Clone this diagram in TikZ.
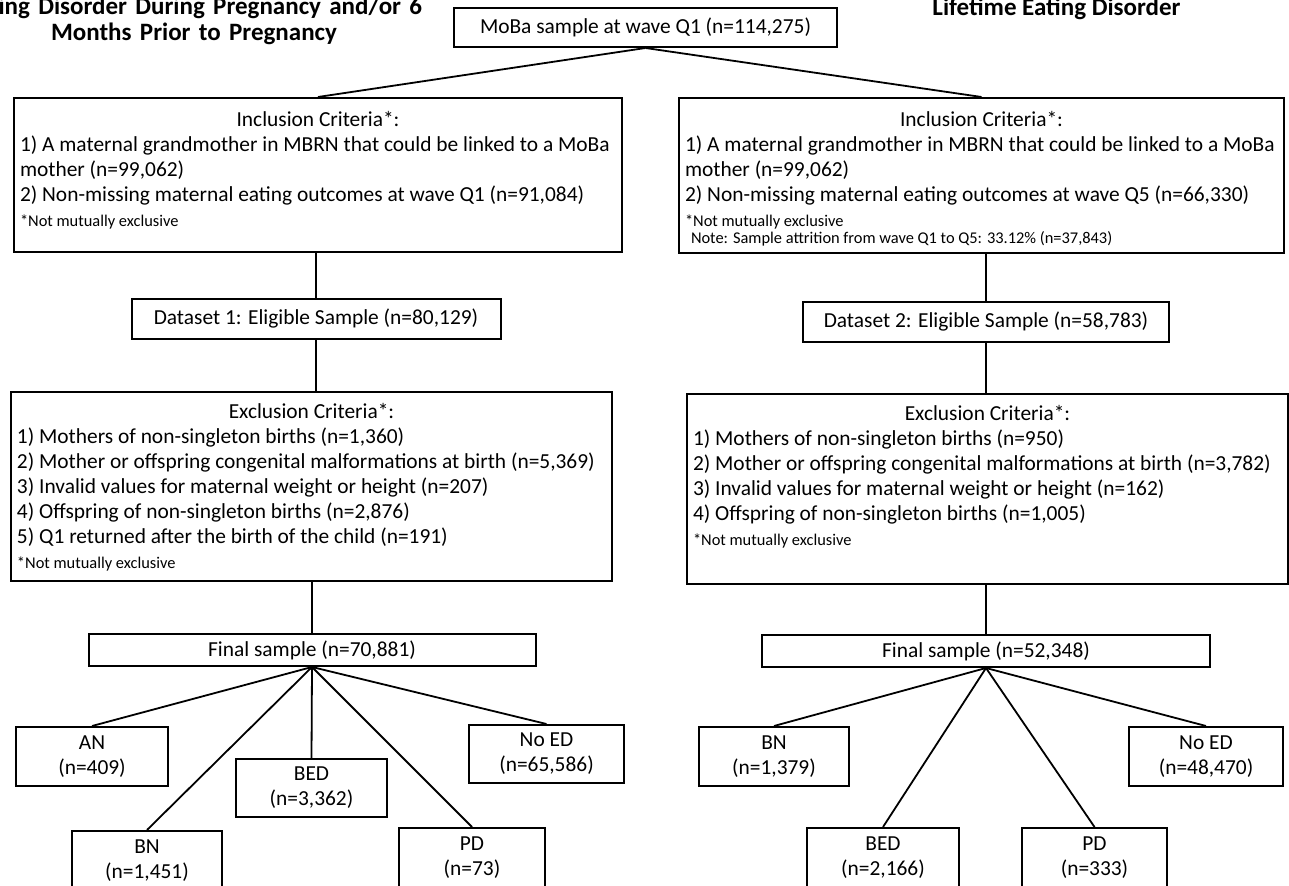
\documentclass[tikz,border=0pt]{standalone}
\usepackage{fontspec}
\setmainfont{Carlito}
\newcommand{\bodyfont}{\fontsize{10.7}{12.5}\selectfont}
\newcommand{\notefont}{\fontsize{8.2}{9.5}\selectfont}
\newcommand{\headfont}{\fontsize{12.5}{13}\selectfont\bfseries}

\begin{document}
\begin{tikzpicture}[
  x=0.5pt, y=-0.5pt,
  flowbox/.style={draw, line width=1pt, inner sep=0pt, font=\bodyfont},
  critbox/.style={flowbox, anchor=north west, align=flush left, inner xsep=3pt},
  cellbox/.style={flowbox, align=center},
  headline/.style={font=\headfont, inner sep=0pt, anchor=base},
  link/.style={line width=0.9pt},
]
  \useasboundingbox (0,0) rectangle (1289,886);
  \clip (0,0) rectangle (1289,886);

  % Titles (cut by the frame)
  \node[headline, text width=260pt, align=center] (titleL) at (194,15)
    {\hphantom{Eat}ing Disorder During Pregnancy and/or 6\\Months Prior to Pregnancy};
  \node[headline] (titleR) at (1056.5,16) {Lifetime Eating Disorder};

  % Common start
  \node[cellbox, minimum width=191.5pt, minimum height=19.5pt] (top) at (645.5,27.5)
    {MoBa sample at wave Q1 (n=114,275)};

  % Left branch: dataset 1
  \node[critbox, text width=298pt, text height=14.5pt, text depth=62.5pt] (inclL) at (13,97)
    {\makebox[\linewidth]{Inclusion Criteria*:}\\
     \mbox{1) A maternal grandmother in MBRN that could be linked to a MoBa}\\
     mother (n=99,062)\\
     \mbox{2) Non-missing maternal eating outcomes at wave Q1 (n=91,084)}\\
     {\notefont *Not mutually exclusive}};
  \node[cellbox, minimum width=184.5pt, minimum height=20pt] (data1) at (316,319)
    {Dataset 1: Eligible Sample (n=80,129)};
  \node[critbox, text width=294.5pt, text height=13.5pt, text depth=81pt] (exclL) at (10,391)
    {\makebox[\linewidth]{Exclusion Criteria*:}\\
     1) Mothers of non-singleton births (n=1,360)\\
     \mbox{2) Mother or offspring congenital malformations at birth (n=5,369)}\\
     3) Invalid values for maternal weight or height (n=207)\\
     4) Offspring of non-singleton births (n=2,876)\\
     5) Q1 returned after the birth of the child (n=191)\\
     {\notefont *Not mutually exclusive}};
  \node[cellbox, minimum width=223.5pt, minimum height=16pt] (finalL) at (312,650)
    {Final sample (n=70,881)};

  \node[cellbox, minimum width=76pt, minimum height=29.5pt] (ANl) at (92,756.5) {AN\\(n=409)};
  \node[cellbox, minimum width=75pt, minimum height=29.5pt] (BNl) at (147,860.5) {BN\\(n=1,451)};
  \node[cellbox, minimum width=75.5pt, minimum height=29pt] (BEDl) at (311.5,788) {BED\\(n=3,362)};
  \node[cellbox, minimum width=73pt, minimum height=29.5pt] (PDl) at (472,857.5) {PD\\(n=73)};
  \node[cellbox, minimum width=77.5pt, minimum height=29pt] (NoEDl) at (546.5,754) {No ED\\(n=65,586)};

  % Right branch: dataset 2
  \node[critbox, text width=296.5pt, text height=14.5pt, text depth=63pt] (inclR) at (678,97)
    {\makebox[\linewidth]{Inclusion Criteria*:}\\
     \mbox{1) A maternal grandmother in MBRN that could be linked to a MoBa}\\
     mother (n=99,062)\\
     \mbox{2) Non-missing maternal eating outcomes at wave Q5 (n=66,330)}\\
     {\notefont *Not mutually exclusive}\\[-4pt]
     {\notefont\hspace*{3pt}Note: Sample attrition from wave Q1 to Q5: 33.12\% (n=37,843)}};
  \node[cellbox, minimum width=183pt, minimum height=20pt] (data2) at (986,322)
    {Dataset 2: Eligible Sample (n=58,783)};
  \node[critbox, text width=294.5pt, text height=13.5pt, text depth=81.5pt] (exclR) at (686,393)
    {\makebox[\linewidth]{Exclusion Criteria*:}\\
     1) Mothers of non-singleton births (n=950)\\
     \mbox{2) Mother or offspring congenital malformations at birth (n=3,782)}\\
     3) Invalid values for maternal weight or height (n=162)\\
     4) Offspring of non-singleton births (n=1,005)\\
     {\notefont *Not mutually exclusive}};
  \node[cellbox, minimum width=224pt, minimum height=16pt] (finalR) at (986,651)
    {Final sample (n=52,348)};

  \node[cellbox, minimum width=75pt, minimum height=29.5pt] (BNr) at (774,756.5) {BN\\(n=1,379)};
  \node[cellbox, minimum width=76pt, minimum height=29.5pt] (BEDr) at (883,857.5) {BED\\(n=2,166)};
  \node[cellbox, minimum width=72.5pt, minimum height=29.5pt] (PDr) at (1094.5,857.5) {PD\\(n=333)};
  \node[cellbox, minimum width=77pt, minimum height=29.5pt] (NoEDr) at (1206,756.5) {No ED\\(n=48,470)};

  % Connectors
  \draw[link] (top.south) -- (inclL.north);
  \draw[link] (top.south) -- (inclR.north);
  \draw[link] (data1.north |- inclL.south) -- (data1.north);
  \draw[link] (data1.south) -- (data1.south |- exclL.north);
  \draw[link] (finalL.north |- exclL.south) -- (finalL.north);
  \draw[link] (data2.north |- inclR.south) -- (data2.north);
  \draw[link] (data2.south) -- (data2.south |- exclR.north);
  \draw[link] (finalR.north |- exclR.south) -- (finalR.north);
  \foreach \o in {ANl, BNl, BEDl, PDl, NoEDl}
    \draw[link] (finalL.south) -- (\o.north);
  \foreach \o in {BNr, BEDr, PDr, NoEDr}
    \draw[link] (finalR.south) -- (\o.north);
\end{tikzpicture}
\end{document}
